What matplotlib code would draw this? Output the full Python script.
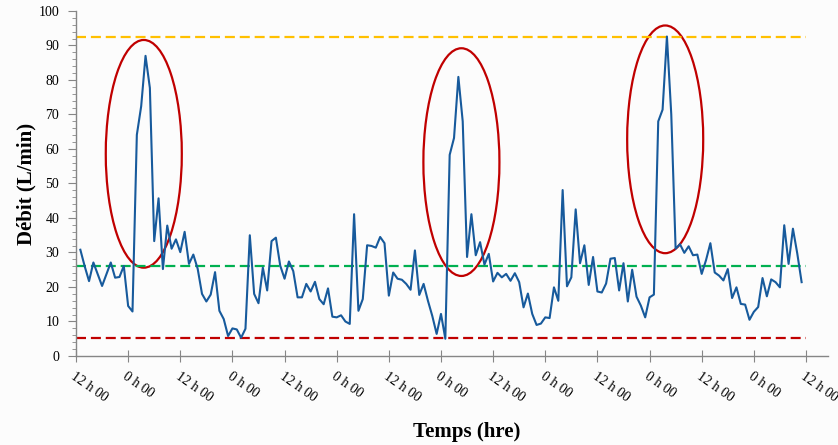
import matplotlib
matplotlib.use('Agg')
import matplotlib.pyplot as plt
from matplotlib.patches import Ellipse
from matplotlib.ticker import MultipleLocator

plt.rcParams['font.family'] = ['Liberation Serif', 'DejaVu Serif']

# debit horaire (L/min), une valeur par heure a partir de 1 h
debit = [30.8, 26.0, 21.7, 27.1, 23.7, 20.3, 23.7, 27.1, 22.7, 22.9,
         26.1, 14.5, 12.9, 64.1, 72.4, 87.0, 77.7, 33.3, 45.7, 25.2,
         37.8, 31.1, 33.8, 30.1, 36.0, 26.7, 29.4, 25.3, 18.0, 15.8,
         17.8, 24.3, 13.1, 10.7, 5.8, 8.0, 7.7, 5.3, 7.9, 35.0,
         18.0, 15.3, 25.6, 19.0, 33.3, 34.3, 26.2, 22.4, 27.4, 24.6,
         17.0, 17.0, 20.9, 18.7, 21.5, 16.5, 15.0, 19.6, 11.4, 11.2,
         11.8, 10.0, 9.3, 41.1, 13.1, 16.5, 32.1, 31.9, 31.4, 34.5,
         32.7, 17.5, 24.2, 22.4, 22.1, 20.9, 19.2, 30.6, 17.7, 20.9,
         16.0, 11.6, 6.4, 12.2, 5.0, 58.3, 63.2, 80.9, 68.0, 28.7,
         41.1, 29.2, 33.0, 26.5, 29.6, 21.6, 24.1, 22.8, 23.8, 21.8,
         24.0, 21.4, 14.1, 18.1, 12.2, 9.0, 9.4, 11.2, 11.0, 19.9,
         16.0, 48.1, 20.2, 22.8, 42.5, 26.9, 32.1, 20.6, 28.7, 18.7,
         18.4, 21.0, 28.2, 28.4, 19.0, 26.9, 15.8, 25.0, 17.2, 14.6,
         11.2, 17.0, 17.8, 68.0, 71.4, 92.6, 70.0, 31.1, 32.4, 29.9,
         31.8, 29.2, 29.4, 23.8, 27.8, 32.7, 24.2, 23.3, 21.9, 25.2,
         16.8, 19.9, 15.1, 14.9, 10.5, 12.8, 14.2, 22.6, 17.3, 22.2,
         21.4, 19.9, 37.9, 26.7, 36.9, 29.7, 21.4]
heures = list(range(1, len(debit) + 1))

tick_heures = list(range(0, 169, 12))
tick_labels = ['12 h 00' if i % 2 == 0 else '0 h 00' for i in range(len(tick_heures))]

seuil_max = 92.5
moyenne = 26.1
seuil_min = 5.3

# pics entoures: (centre heure, centre debit)
pics = [(15.6, 58.6), (88.7, 56.2), (135.6, 62.8)]

fig = plt.figure(figsize=(8.38, 4.45), dpi=100, facecolor='#fcfcfc')
ax = fig.add_axes([0.0907, 0.2, 0.897, 0.7753])
ax.set_facecolor('#fcfcfc')

ax.hlines(seuil_max, 0, 168, colors='#ffc000', linestyles=(0, (4.5, 2.2)), linewidth=1.6)
ax.hlines(moyenne, 0, 168, colors='#00b050', linestyles=(0, (4.5, 2.2)), linewidth=1.6)
ax.hlines(seuil_min, 0, 168, colors='#c00000', linestyles=(0, (4.5, 2.2)), linewidth=1.6)

ax.plot(heures, debit, color='#175a9c', linewidth=1.5)

for cx, cy in pics:
    ax.add_patch(Ellipse((cx, cy), 17.5, 66, fill=False, edgecolor='#c00000', linewidth=1.6))

ax.set_xlim(0, 173)
ax.set_ylim(0, 100)
ax.yaxis.set_major_locator(MultipleLocator(10))
ax.yaxis.set_minor_locator(MultipleLocator(2))
ax.set_xticks(tick_heures)
ax.set_xticklabels(tick_labels)
plt.setp(ax.get_xticklabels(), rotation=-35, ha='left', va='top', rotation_mode='anchor')

for s in ['top', 'right']:
    ax.spines[s].set_visible(False)
for s in ['left', 'bottom']:
    ax.spines[s].set_color('#868686')
    ax.spines[s].set_linewidth(1.0)

ax.tick_params(axis='y', which='major', length=6, color='#868686', labelsize=10, pad=6)
ax.tick_params(axis='y', which='minor', length=3, color='#868686')
ax.tick_params(axis='x', which='major', direction='inout', length=8, color='#868686', labelsize=10, pad=6)

ax.set_ylabel('Débit (L/min)', fontsize=15, fontweight='bold')
ax.set_xlabel('Temps (hre)', fontsize=15, fontweight='bold')
ax.yaxis.set_label_coords(-0.052, 0.5)
ax.xaxis.set_label_coords(0.52, -0.19)

fig.savefig('out.png', dpi=100, facecolor=fig.get_facecolor())
